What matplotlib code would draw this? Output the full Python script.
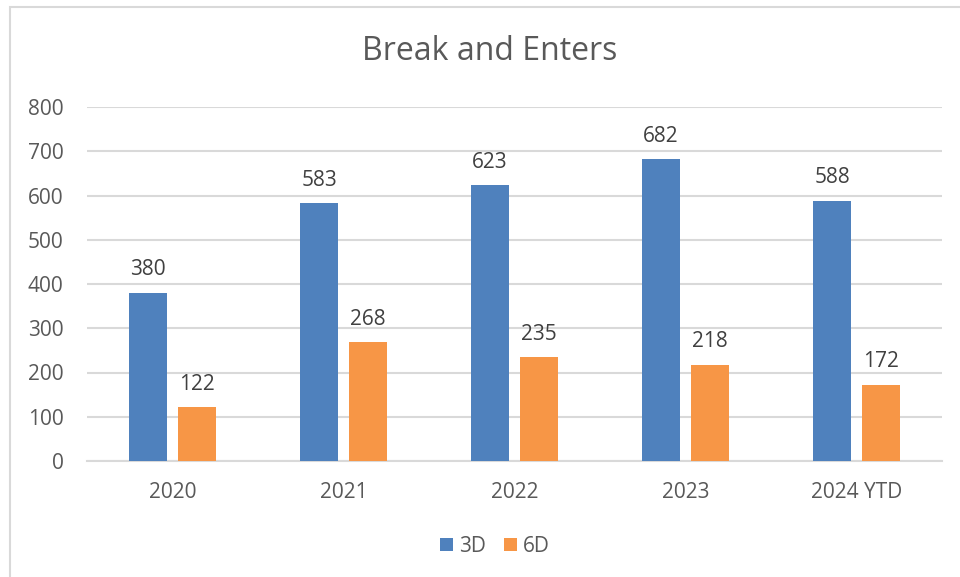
import matplotlib.pyplot as plt
import numpy as np
from matplotlib.patches import Rectangle

# data
years = ['2020', '2021', '2022', '2023', '2024 YTD']
vals_3d = [380, 583, 623, 682, 588]
vals_6d = [122, 268, 235, 218, 172]

BLUE = '#4F81BD'
ORANGE = '#F79646'
GRID = '#D9D9D9'
TXT = '#595959'

plt.rcParams['font.family'] = ['Open Sans', 'DejaVu Sans']

fig = plt.figure(figsize=(9.6, 5.77), dpi=100)
ax = fig.add_axes([87/960, 1-461/577, (942-87)/960, (461-107)/577])

# chart border (only left/top visible in the crop)
fig.patches.append(Rectangle((10/960, -0.1), 1.2, 1.1 - 7/577, transform=fig.transFigure,
                             fill=False, edgecolor=GRID, linewidth=1.5))

x = np.arange(len(years))
w = 0.222
off = 0.143
b1 = ax.bar(x - off, vals_3d, w, color=BLUE, label='3D', zorder=3)
b2 = ax.bar(x + off, vals_6d, w, color=ORANGE, label='6D', zorder=3)

for bars in (b1, b2):
    for r in bars:
        ax.annotate(str(int(r.get_height())), (r.get_x() + r.get_width()/2, r.get_height()),
                    xytext=(0, 9), textcoords='offset points', ha='center', va='bottom',
                    fontsize=15, color='#404040')

ax.set_ylim(0, 800)
ax.set_xlim(-0.5, len(years) - 0.5)
ax.set_yticks(range(0, 801, 100))
ax.set_xticks(x)
ax.set_xticklabels(years)
ax.grid(axis='y', color=GRID, linewidth=1.5, zorder=0)
for s in ['top', 'right', 'left']:
    ax.spines[s].set_visible(False)
ax.spines['bottom'].set_color(GRID)
ax.spines['bottom'].set_linewidth(1.5)
ax.tick_params(axis='both', length=0, labelsize=15, colors=TXT)
ax.tick_params(axis='y', pad=17)
ax.tick_params(axis='x', pad=15)

fig.text(490/960, 1-52/577, 'Break and Enters', ha='center', va='center', fontsize=23, color=TXT)

fig.legend(handles=[b1, b2], labels=['3D', '6D'], loc='center', bbox_to_anchor=(495/960, 1-546/577),
           ncol=2, frameon=False, fontsize=15, labelcolor=TXT, handlelength=0.6, handleheight=0.6,
           handletextpad=0.3, columnspacing=0.9)

fig.savefig('out.png', dpi=100)
